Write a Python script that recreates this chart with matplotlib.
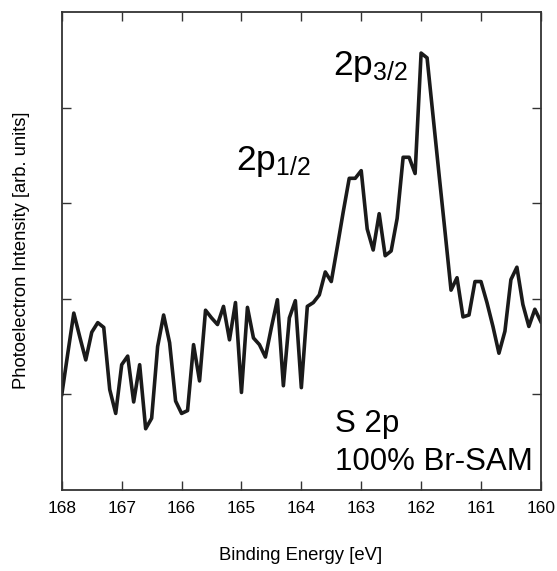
import numpy as np
import matplotlib
matplotlib.use("Agg")
import matplotlib.pyplot as plt

plt.rcParams["font.family"] = ["Liberation Sans", "DejaVu Sans"]
plt.rcParams["mathtext.fontset"] = "custom"
plt.rcParams["mathtext.rm"] = "Liberation Sans"
plt.rcParams["mathtext.it"] = "Liberation Sans"

# ===============================
# data (S 2p XPS, 100% Br-SAM)
# ===============================
energy = np.linspace(168.0, 160.0, 81)   # 0.1 eV steps
intensity = [
    1.00, 1.43, 1.85, 1.60, 1.36, 1.65, 1.75, 1.70, 1.05, 0.80,
    1.31, 1.40, 0.92, 1.31, 0.64, 0.75, 1.50, 1.83, 1.54, 0.93,
    0.80, 0.83, 1.52, 1.14, 1.88, 1.80, 1.73, 1.92, 1.57, 1.96,
    1.02, 1.91, 1.59, 1.52, 1.39, 1.70, 1.99, 1.09, 1.80, 1.98,
    1.07, 1.92, 1.96, 2.04, 2.28, 2.18, 2.54, 2.91, 3.26, 3.26,
    3.34, 2.73, 2.51, 2.89, 2.45, 2.50, 2.84, 3.48, 3.48, 3.31,
    4.57, 4.52, 3.91, 3.30, 2.70, 2.09, 2.22, 1.81, 1.83, 2.18,
    2.18, 1.96, 1.71, 1.43, 1.66, 2.20, 2.33, 1.94, 1.71, 1.89,
    1.76,
]
xticks = [168, 167, 166, 165, 164, 163, 162, 161, 160]
yticks = [1, 2, 3, 4]

# ===============================
# plot
# ===============================
W, H = 557, 571
fig = plt.figure(figsize=(W / 100, H / 100), dpi=100)
ax = fig.add_axes([0.111, 0.142, 0.860, 0.837])

ax.plot(energy, intensity, color="#1a1a1a", lw=2.6)

ax.set_xlim(168, 160)
ax.set_ylim(0, 5)
ax.set_xticks(xticks)
ax.set_xticklabels([str(t) for t in xticks])
ax.set_yticks(yticks)
ax.set_yticklabels([])
ax.tick_params(direction="in", length=6.5, width=1.0, color="#333333",
               top=True, right=True, labelsize=12.5, pad=8)
for s in ax.spines.values():
    s.set_linewidth(1.3)
    s.set_color("#333333")

# axis titles in figure pixels (origin bottom-left)
fig.text(301 / W, 1 - 556 / H, "Binding Energy [eV]", fontsize=13.3,
         ha="center", va="center")
fig.text(22 / W, 1 - 250 / H, "Photoelectron Intensity [arb. units]",
         fontsize=13.2, rotation=90, ha="center", va="center")

# peak labels and sample note
ax.text(236, H - 170, r"2p$_{1/2}$", transform=None, fontsize=25.5,
        ha="left", va="baseline")
ax.text(333, H - 75, r"2p$_{3/2}$", transform=None, fontsize=25.5,
        ha="left", va="baseline")
ax.text(335, H - 432, "S 2p", transform=None, fontsize=22.5, va="baseline")
ax.text(335, H - 470, "100% Br-SAM", transform=None, fontsize=22.5,
        va="baseline")

plt.savefig("out.png", dpi=100)
